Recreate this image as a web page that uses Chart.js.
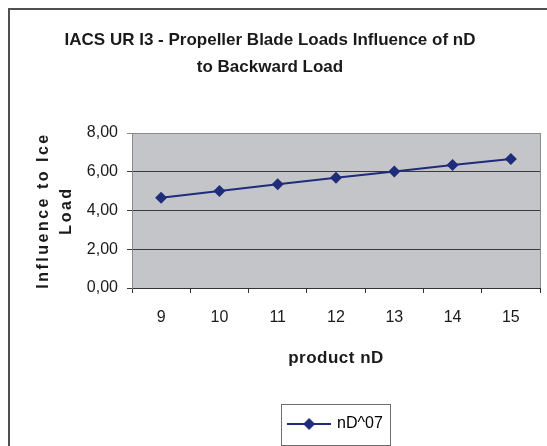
<!DOCTYPE html>
<html>
<head>
<meta charset="utf-8">
<title>IACS UR I3 - Propeller Blade Loads Influence of nD to Backward Load</title>
<script src="https://cdn.jsdelivr.net/npm/chart.js@4"></script>
<style>
  html, body { margin: 0; padding: 0; background: #ffffff; }
  canvas { display: block; }
</style>
</head>
<body>
<canvas id="chart" width="547" height="446"></canvas>
<script>
// Product nD on the x axis, and its influence on the backward ice load (nD^0.7)
const categories = ['9', '10', '11', '12', '13', '14', '15'];
const influence = [4.66, 5.01, 5.36, 5.69, 6.02, 6.35, 6.66];
const seriesName = 'nD^07';

const yTickValues = [0, 2, 4, 6, 8];
const yTickLabels = ['0,00', '2,00', '4,00', '6,00', '8,00'];

const titleLines = ['IACS UR I3 - Propeller Blade Loads Influence of nD', 'to Backward Load'];
const xTitle = 'product nD';
const yTitleLines = ['Influence to Ice', 'Load'];

const LINE_COLOR = '#1f2c7a';
const TEXT_COLOR = '#1a1a1a';
const FONT = "'Liberation Sans', Arial, Helvetica, sans-serif";

Chart.defaults.font.family = FONT;
Chart.defaults.color = TEXT_COLOR;

// Legend glyph: a short line with a diamond marker in the middle
function makeLegendGlyph() {
  const c = document.createElement('canvas');
  c.width = 44; c.height = 14;
  const g = c.getContext('2d');
  g.strokeStyle = LINE_COLOR;
  g.lineWidth = 2;
  g.beginPath();
  g.moveTo(0, 7); g.lineTo(44, 7);
  g.stroke();
  g.fillStyle = LINE_COLOR;
  g.beginPath();
  g.moveTo(22, 1); g.lineTo(28, 7); g.lineTo(22, 13); g.lineTo(16, 7);
  g.closePath();
  g.fill();
  return c;
}
const legendGlyph = makeLegendGlyph();

// Frame around the whole chart and the grey plot area
const framePlugin = {
  id: 'frame',
  beforeDraw(chart) {
    const { ctx, chartArea: a } = chart;
    ctx.save();
    ctx.fillStyle = '#ffffff';
    ctx.fillRect(0, 0, chart.width, chart.height);
    ctx.strokeStyle = '#505050';
    ctx.lineWidth = 2;
    ctx.strokeRect(9, 9, chart.width + 20, chart.height + 20);
    ctx.fillStyle = '#c4c5c8';
    ctx.fillRect(a.left, a.top, a.right - a.left, a.bottom - a.top);
    ctx.restore();
  },
  beforeDatasetsDraw(chart) {
    const { ctx, chartArea: a } = chart;
    ctx.save();
    ctx.strokeStyle = '#8a8a8a';
    ctx.lineWidth = 1;
    ctx.beginPath();
    ctx.moveTo(Math.round(a.right) + 0.5, a.top);
    ctx.lineTo(Math.round(a.right) + 0.5, a.bottom);
    ctx.stroke();
    ctx.restore();
  },
  afterDraw(chart) {
    const lg = chart.legend;
    if (!lg || !lg.legendHitBoxes || !lg.legendHitBoxes.length) return;
    const hb = lg.legendHitBoxes[0];
    const { ctx } = chart;
    ctx.save();
    ctx.strokeStyle = '#6e6e6e';
    ctx.lineWidth = 1;
    const l = Math.round(hb.left - 8) + 0.5;
    const r = Math.round(hb.left + hb.width + 7) + 0.5;
    const t = Math.round(hb.top - 12) + 0.5;
    const b = Math.round(hb.top + hb.height + 13) + 0.5;
    ctx.strokeRect(l, t, r - l, b - t);
    ctx.restore();
  }
};

// Letter-spaced axis titles
const spacedTitles = {
  id: 'spacedTitles',
  afterLayout(chart) {
    [['y', '2.5px'], ['x', '0.5px']].forEach(([id, sp]) => {
      const s = chart.scales[id];
      if (s && !s.__spaced) {
        const orig = s.drawTitle;
        s.drawTitle = function () {
          const c = this.ctx;
          c.save();
          c.letterSpacing = sp;
          orig.call(this);
          c.restore();
        };
        s.__spaced = true;
      }
    });
  }
};

new Chart(document.getElementById('chart'), {
  type: 'line',
  data: {
    labels: categories,
    datasets: [{
      label: seriesName,
      data: influence,
      borderColor: LINE_COLOR,
      backgroundColor: LINE_COLOR,
      borderWidth: 2,
      tension: 0,
      fill: false,
      pointStyle: 'rectRot',
      pointRadius: 6,
      pointHoverRadius: 6,
      pointBackgroundColor: LINE_COLOR,
      pointBorderColor: LINE_COLOR,
      pointBorderWidth: 0
    }]
  },
  options: {
    responsive: false,
    devicePixelRatio: 1,
    animation: false,
    layout: { padding: { top: 0, left: 0, right: 7, bottom: 4 } },
    plugins: {
      title: {
        display: true,
        text: titleLines,
        color: TEXT_COLOR,
        font: { size: 17, weight: 'bold', lineHeight: 1.59 },
        padding: { top: 26.5, bottom: 52.5 }
      },
      legend: {
        position: 'bottom',
        fullSize: false,
        labels: {
          usePointStyle: true,
          pointStyleWidth: 40,
          padding: 10,
          color: TEXT_COLOR,
          font: { size: 16 },
          generateLabels: (chart) => [{
            text: seriesName,
            pointStyle: legendGlyph,
            fillStyle: LINE_COLOR,
            strokeStyle: LINE_COLOR,
            lineWidth: 0,
            hidden: false,
            datasetIndex: 0
          }]
        }
      },
      tooltip: { enabled: false }
    },
    scales: {
      x: {
        type: 'category',
        offset: true,
        grid: {
          offset: true,
          drawOnChartArea: false,
          drawTicks: true,
          tickLength: 5,
          color: '#333333'
        },
        border: { color: '#333333', width: 1 },
        ticks: { color: TEXT_COLOR, font: { size: 16 }, padding: 15, maxRotation: 0 },
        title: {
          display: true,
          text: xTitle,
          color: TEXT_COLOR,
          font: { size: 17, weight: 'bold' },
          padding: { top: 0, bottom: 37.8 }
        },
        afterFit: (s) => { s.height = 118; }
      },
      y: {
        min: 0,
        max: 8,
        grid: {
          color: (c) => (c.tick && c.tick.value === 8 ? '#8a8a8a' : '#3a3a3a'),
          tickLength: 5,
          drawTicks: true
        },
        border: { color: '#8a8a8a', width: 1 },
        ticks: {
          stepSize: 2,
          padding: 9,
          color: TEXT_COLOR,
          font: { size: 16 },
          callback: (v) => {
            const i = yTickValues.indexOf(v);
            return i >= 0 ? yTickLabels[i] : '';
          }
        },
        title: {
          display: true,
          text: yTitleLines,
          color: TEXT_COLOR,
          font: { size: 16, weight: 'bold', lineHeight: 1.44 },
          padding: { top: 32.5, bottom: 0 }
        },
        afterFit: (s) => { s.width = 132; }
      }
    }
  },
  plugins: [framePlugin, spacedTitles]
});
</script>
</body>
</html>
